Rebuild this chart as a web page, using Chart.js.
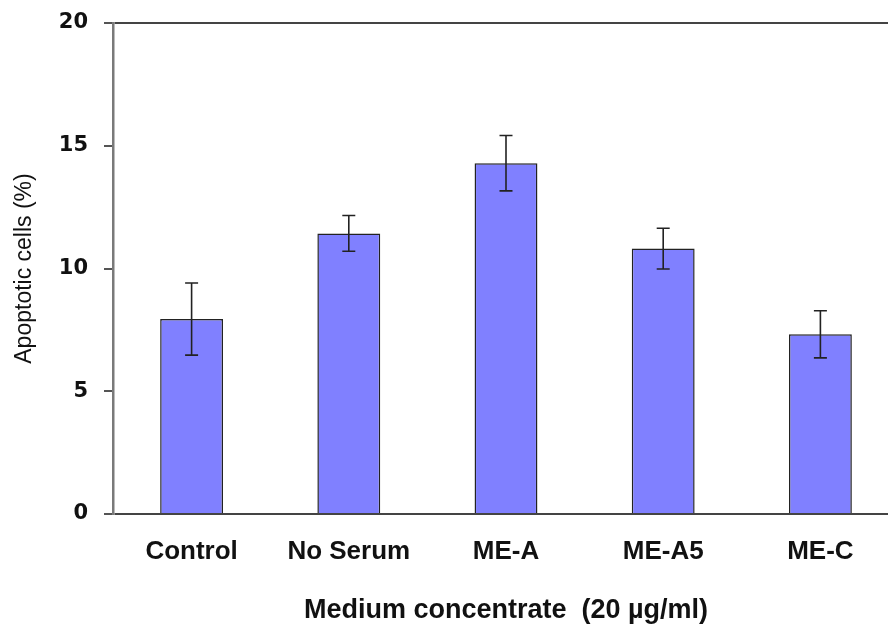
<!DOCTYPE html>
<html>
<head>
<meta charset="utf-8">
<script src="https://cdn.jsdelivr.net/npm/chart.js@4.4.0/dist/chart.umd.min.js"></script>
<style>
  html, body { margin: 0; padding: 0; background: #fff; overflow: hidden; }
  #wrap { width: 905px; height: 627px; }
</style>
</head>
<body>
<div id="wrap"><canvas id="c" width="905" height="627"></canvas></div>
<script>
const categories = ["Control", "No Serum", "ME-A", "ME-A5", "ME-C"];
const meanValues = [7.94, 11.43, 14.29, 10.81, 7.32];
const errorValues = [1.47, 0.73, 1.13, 0.83, 0.96];
const yTickValues = [0, 5, 10, 15, 20];

const errorBarPlugin = {
  id: 'errorBars',
  afterDatasetsDraw(chart) {
    const ctx = chart.ctx;
    const meta = chart.getDatasetMeta(0);
    const yScale = chart.scales.y;
    ctx.save();
    ctx.strokeStyle = '#222';
    ctx.lineWidth = 1.6;
    meta.data.forEach((bar, i) => {
      const x = bar.x;
      const yTop = yScale.getPixelForValue(meanValues[i] + errorValues[i]);
      const yBot = yScale.getPixelForValue(meanValues[i] - errorValues[i]);
      const cap = 6.5;
      ctx.beginPath();
      ctx.moveTo(x, yTop); ctx.lineTo(x, yBot);
      ctx.moveTo(x - cap, yTop); ctx.lineTo(x + cap, yTop);
      ctx.moveTo(x - cap, yBot); ctx.lineTo(x + cap, yBot);
      ctx.stroke();
    });
    ctx.restore();
  }
};

new Chart(document.getElementById('c'), {
  type: 'bar',
  data: {
    labels: categories,
    datasets: [{
      data: meanValues,
      backgroundColor: '#8080FF',
      borderColor: '#222',
      borderWidth: 1.5,
      categoryPercentage: 1.0,
      barPercentage: 0.4
    }]
  },
  options: {
    responsive: false,
    animation: false,
    layout: { padding: { top: 23, right: 6, bottom: 0, left: 0 } },
    plugins: { legend: { display: false }, tooltip: { enabled: false } },
    scales: {
      x: {
        afterFit(scale) { scale.height = 113; scale.paddingLeft = 0; scale.paddingRight = 0; },
        grid: { display: false, drawTicks: false, tickLength: 0 },
        border: { display: false },
        ticks: {
          padding: 22,
          color: '#111',
          font: { family: 'Liberation Sans', size: 26, weight: 'bold' },
          maxRotation: 0
        },
        title: {
          display: true,
          text: 'Medium concentrate  (20 µg/ml)',
          color: '#111',
          font: { family: 'Liberation Sans', size: 27, weight: 'bold' },
          padding: { top: 0, bottom: 0 }
        }
      },
      y: {
        min: 0,
        max: 20,
        afterFit(scale) { scale.width = 113; scale.paddingTop = 0; scale.paddingBottom = 0; },
        afterBuildTicks(scale) { scale.ticks = yTickValues.map(v => ({ value: v })); },
        grid: {
          color: ctx => (ctx.tick && (ctx.tick.value === 0 || ctx.tick.value === 20)) ? '#444' : 'rgba(0,0,0,0)',
          lineWidth: 2,
          tickColor: '#555',
          tickLength: 9,
          drawTicks: true
        },
        border: { display: true, color: '#7a7a7a', width: 2.5 },
        ticks: {
          padding: 16,
          color: '#111',
          font: { family: 'DejaVu Sans', size: 21, weight: 'bold' }
        },
        title: {
          display: true,
          text: 'Apoptotic cells (%)',
          color: '#111',
          font: { family: 'Liberation Sans', size: 23 },
          padding: { top: 11, bottom: 0 }
        }
      }
    }
  },
  plugins: [errorBarPlugin]
});
</script>
</body>
</html>
